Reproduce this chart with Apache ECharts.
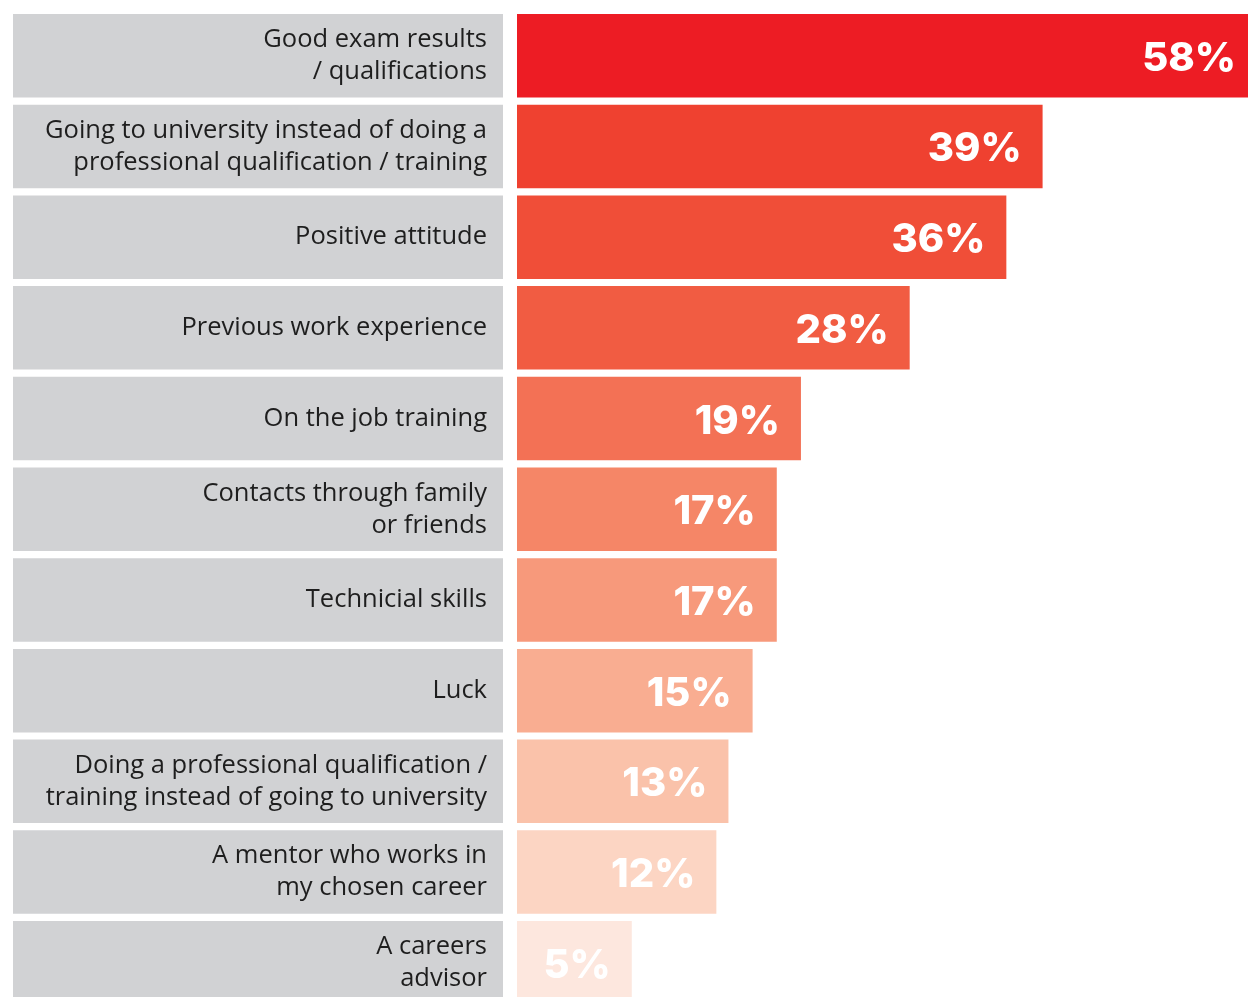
<!DOCTYPE html>
<html>
<head>
<meta charset="utf-8">
<script src="https://cdn.jsdelivr.net/npm/echarts@6/dist/echarts.min.js"></script>
<style>html,body{margin:0;padding:0;background:#fff;}#c{width:1248px;height:997px;}</style>
</head>
<body>
<div id="c"></div>
<script>
const categories = [
  'Good exam results\n/ qualifications',
  'Going to university instead of doing a\nprofessional qualification / training',
  'Positive attitude',
  'Previous work experience',
  'On the job training',
  'Contacts through family\nor friends',
  'Technicial skills',
  'Luck',
  'Doing a professional qualification /\ntraining instead of going to university',
  'A mentor who works in\nmy chosen career',
  'A careers\nadvisor'
];
const values = [58, 39, 36, 28, 19, 17, 17, 15, 13, 12, 5];
const barColors = ['#ED1C24', '#EF4130', '#F04E38', '#F15C42', '#F37155', '#F58667', '#F7997B', '#F9AD91', '#FAC2AA', '#FCD5C3', '#FDE7DE'];

const chart = echarts.init(document.getElementById('c'), null, {renderer: 'canvas'});
const gridTop = 10.4, gridH = 907 / 10 * 11;
chart.setOption({
  animation: false,
  grid: [
    {left: 517, right: 0, top: gridTop, height: gridH, containLabel: false, outerBoundsMode: 'none'},
    {left: 13, width: 490, top: gridTop, height: gridH, containLabel: false, outerBoundsMode: 'none'}
  ],
  xAxis: [
    {gridIndex: 0, type: 'value', min: -4.5, max: 56, startValue: -4.5, show: false},
    {gridIndex: 1, type: 'value', min: 0, max: 1, show: false}
  ],
  yAxis: [
    {gridIndex: 0, type: 'category', inverse: true, data: categories, z: 20,
     axisLine: {show: false}, axisTick: {show: false},
     axisLabel: {margin: 30, fontFamily: 'Open Sans', fontSize: 25.5, lineHeight: 32, color: '#1e1e1e', align: 'right'}},
    {gridIndex: 1, type: 'category', inverse: true, data: categories, show: false}
  ],
  series: [
    {type: 'bar', xAxisIndex: 1, yAxisIndex: 1, silent: true, z: 1,
     barCategoryGap: '7.9%', data: categories.map(() => 1),
     itemStyle: {color: '#D1D2D4'}},
    {type: 'bar', xAxisIndex: 0, yAxisIndex: 0, z: 2, clip: true,
     barCategoryGap: '7.9%',
     data: values.map((v, i) => ({value: v, itemStyle: {color: barColors[i]}, label: i === 0 ? {distance: 12} : undefined})),
     label: {show: true, position: 'insideRight', distance: 21, offset: [0, 3], formatter: '{c}%',
             color: '#fff', fontFamily: 'Inter', fontWeight: 800, fontSize: 40}}
  ]
});
</script>
</body>
</html>
